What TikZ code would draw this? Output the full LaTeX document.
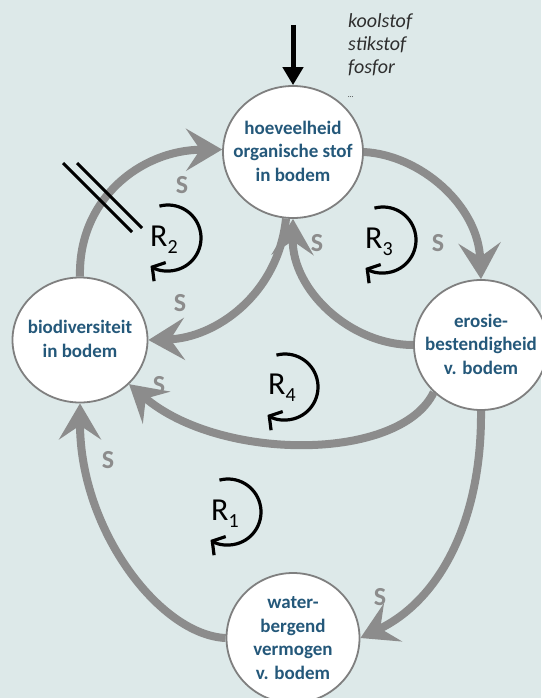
\documentclass[tikz,border=0pt]{standalone}
\usepackage{fontspec}
\setmainfont{Carlito}
\usetikzlibrary{arrows.meta,shapes.geometric}
\definecolor{bg}{HTML}{DDE9E9}
\definecolor{ink}{HTML}{24587A}
\definecolor{conn}{HTML}{8C8C8C}
\definecolor{rim}{HTML}{7F7F7F}
\definecolor{note}{HTML}{2E2E2E}
\begin{document}
\begin{tikzpicture}[x=1pt,y=-1pt,
  state/.style={ellipse, draw=rim, line width=1.8pt, fill=white, inner sep=0pt},
  txt/.style={align=center, text=ink, inner sep=0pt, font=\fontsize{19}{23.5}\selectfont\bfseries},
  link/.style={draw=conn, line width=8pt, -{Stealth[length=36pt,width=42pt,inset=14pt]}},
  slabel/.style={text=conn, inner sep=0pt, font=\fontsize{26}{26}\selectfont\bfseries},
  loopar/.style={line width=3.2pt, -{Straight Barb[length=9pt,width=22pt]}},
  rlabel/.style={inner sep=0pt, font=\fontsize{32}{32}\selectfont},
  bar/.style={line width=3pt}
]
\fill[bg] (0,0) rectangle (541,698);
\useasboundingbox (0,0) rectangle (541,698);

% circles
\node[state, minimum width=140pt, minimum height=132pt] (top) at (293,152) {};
\node[txt] (toptext) at (293,151) {hoeveelheid\\organische stof\\in bodem};
\node[state, minimum width=135pt, minimum height=125pt] (left) at (80,340) {};
\node[txt] (lefttext) at (80,339) {biodiversiteit\\in bodem};
\node[state, minimum width=134pt, minimum height=130pt] (right) at (481,345) {};
\node[txt] (righttext) at (481,344) {erosie-\\bestendigheid\\v. bodem};
\node[state, minimum width=133pt, minimum height=130pt] (bottom) at (293,638) {};
\node[txt] (bottomtext) at (293,638) {water-\\bergend\\vermogen\\v. bodem};

% inputs
\node[anchor=north west, align=left, text=note, inner sep=0pt,
      font=\fontsize{20}{23}\selectfont\itshape] (elements) at (348,13)
      {koolstof\\stikstof\\fosfor\\[1pt]{\fontsize{8}{8}\selectfont\ldots}};
\coordinate (inflow) at (293,25);
\draw[line width=5pt, -{Triangle[length=18pt,width=20pt]}] (inflow) -- (top.north);

% connectors
\draw[link] (top.0) .. controls (420,155) and (478,205) .. (right.90);
\draw[link] (right.180) .. controls (350,345) and (292,290) .. (top.south);
\draw[link] (top.-96) .. controls (278,295) and (215,338) .. (left.0);
\draw[link] (left.90) .. controls (78,200) and (140,150) .. (top.178);
\draw[link] (right.-135) .. controls (400,462) and (220,462) .. (left.-42);
\draw[link] (bottom.180) .. controls (160,635) and (80,530) .. (left.-90);
\draw[link] (right.-90) .. controls (482,520) and (440,600) .. (bottom.0);

% S labels
\node[slabel] (s1) at (438,243) {S};
\node[slabel] (s2) at (317,243) {S};
\node[slabel] (s3) at (180,303) {S};
\node[slabel] (s4) at (182,185) {S};
\node[slabel] (s5) at (159,385) {S};
\node[slabel] (s6) at (108,460) {S};
\node[slabel] (s7) at (380,597) {S};

% loops
\draw[loopar] (168,238) ++(105:33pt) arc[start angle=105, end angle=-122, radius=33pt];
\node[rlabel] (r2) at (164,240) {R\raisebox{-7pt}{\fontsize{20}{20}\selectfont 2}};
\draw[loopar] (383,240) ++(105:33pt) arc[start angle=105, end angle=-122, radius=33pt];
\node[rlabel] (r3) at (379,242) {R\raisebox{-7pt}{\fontsize{20}{20}\selectfont 3}};
\draw[loopar] (285,387) ++(105:33pt) arc[start angle=105, end angle=-122, radius=33pt];
\node[rlabel] (r4) at (282,388) {R\raisebox{-7pt}{\fontsize{20}{20}\selectfont 4}};
\draw[loopar] (228,512) ++(105:33pt) arc[start angle=105, end angle=-122, radius=33pt];
\node[rlabel] (r1) at (225,514) {R\raisebox{-7pt}{\fontsize{20}{20}\selectfont 1}};

% blocker
\draw[bar] (63,163) -- (132,232);
\draw[bar] (77,163) -- (142,228);
\end{tikzpicture}
\end{document}
